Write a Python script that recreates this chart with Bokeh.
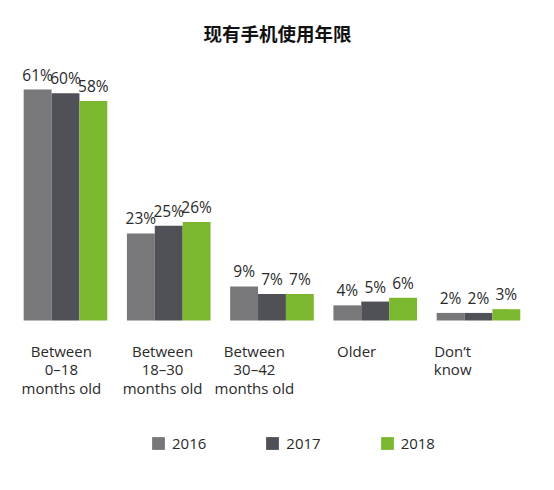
from bokeh.plotting import figure
from bokeh.models import ColumnDataSource, FixedTicker, Legend, LegendItem, Range1d
from bokeh.core.properties import value
from bokeh.embed import file_html
from bokeh.resources import INLINE

title = "现有手机使用年限"
categories = ["Between\n0–18\nmonths old", "Between\n18–30\nmonths old",
              "Between\n30–42\nmonths old", "Older", "Don’t\nknow"]
years = ["2016", "2017", "2018"]
v2016 = [61, 23, 9, 4, 2]
v2017 = [60, 25, 7, 5, 2]
v2018 = [58, 26, 7, 6, 3]
series = [v2016, v2017, v2018]
colors = ["#78787b", "#505156", "#7cb82f"]

# layout constants
bar_w = 0.27
offsets = [-0.27, 0.0, 0.27]
label_pos = [-0.04, 0.94, 1.83, 2.82, 3.75]
FONT = "Open Sans"

p = figure(width=554, height=490, output_backend="svg", toolbar_location=None,
           x_range=Range1d(-0.552, 4.659), y_range=Range1d(-44.9, 69.2),
           min_border_left=8, min_border_right=8, min_border_top=58,
           min_border_bottom=0, outline_line_color=None)
p.title.text = title
p.title.align = "center"
p.title.text_font = "Noto Sans CJK SC"
p.title.text_font_size = "18.5px"
p.title.text_font_style = "bold"
p.title.text_color = "#111111"
p.title.standoff = 26

items = []
for yr, vals, off, col in zip(years, series, offsets, colors):
    xs = [i + off for i in range(len(categories))]
    src = ColumnDataSource(dict(x=xs, top=vals, lab=[f"{v}%" for v in vals]))
    r = p.vbar(x="x", top="top", width=bar_w, bottom=0, source=src,
               fill_color=col, line_color=None)
    p.text(x="x", y="top", text="lab", source=src, text_align="center",
           text_baseline="bottom", y_offset=-4, text_font=value(FONT),
           text_font_size="15.5px", text_color="#2a2a2a")
    items.append(LegendItem(label=yr, renderers=[r]))

p.xgrid.visible = False
p.ygrid.visible = False
p.yaxis.visible = False
ax = p.xaxis[0]
ax.fixed_location = 0
ax.ticker = FixedTicker(ticks=label_pos)
ax.major_label_overrides = {pos: lab for pos, lab in zip(label_pos, categories)}
ax.axis_line_color = None
ax.major_tick_line_color = None
ax.minor_tick_line_color = None
ax.major_tick_out = 0
ax.major_label_standoff = 20
ax.major_label_text_font = FONT
ax.major_label_text_font_size = "15px"
ax.major_label_text_line_height = 0.93
ax.major_label_text_color = "#2a2a2a"

legend = Legend(items=items, orientation="horizontal", location=(142, 37),
                glyph_width=16, glyph_height=16, label_standoff=6, spacing=58,
                label_text_font=FONT, label_text_font_size="15px",
                label_text_color="#2a2a2a", border_line_color=None,
                background_fill_alpha=0, margin=0, padding=6)
p.add_layout(legend)

open("out.html", "w").write(file_html(p, INLINE))
